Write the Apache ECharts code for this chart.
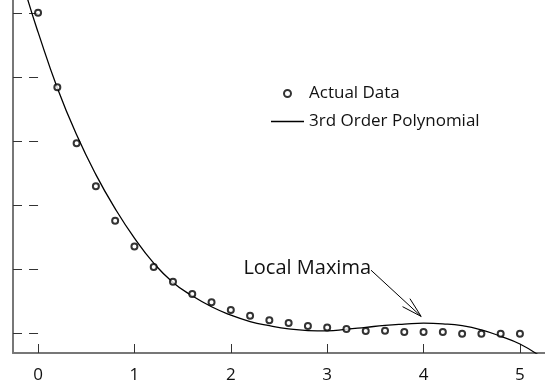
<!DOCTYPE html>
<html>
<head>
<meta charset="utf-8">
<script src="https://cdn.jsdelivr.net/npm/echarts@6/dist/echarts.min.js"></script>
<style>
html,body{margin:0;padding:0;background:#fff;}
#chart{width:545px;height:385px;}
</style>
</head>
<body>
<div id="chart"></div>
<script>
// Actual data
var dataX = [0, 0.2, 0.4, 0.6, 0.8, 1.0, 1.2, 1.4, 1.6, 1.8, 2.0, 2.2, 2.4, 2.6, 2.8, 3.0, 3.2, 3.4, 3.6, 3.8, 4.0, 4.2, 4.4, 4.6, 4.8, 5.0];
var dataY = [5.0, 3.84, 2.97, 2.30, 1.76, 1.36, 1.04, 0.81, 0.62, 0.49, 0.37, 0.28, 0.21, 0.166, 0.12, 0.098, 0.073, 0.042, 0.047, 0.026, 0.026, 0.028, 0.0, 0.0, 0.0, 0.0];
// 3rd order polynomial curve
var polyX = [-0.15, -0.1, 0, 0.2, 0.4, 0.6, 0.8, 1.0, 1.2, 1.4, 1.6, 1.8, 2.0, 2.2, 2.4, 2.6, 2.8, 3.0, 3.2, 3.4, 3.6, 3.8, 4.0, 4.2, 4.4, 4.6, 4.8, 5.0, 5.2];
var polyY = [5.45, 5.17, 4.70, 3.83, 3.10, 2.48, 1.95, 1.49, 1.10, 0.80, 0.59, 0.42, 0.29, 0.19, 0.125, 0.075, 0.05, 0.045, 0.07, 0.10, 0.13, 0.15, 0.165, 0.155, 0.125, 0.06, -0.04, -0.16, -0.34];
// tick labels
var xTicks = [0, 1, 2, 3, 4, 5];
var yTicks = [0, 1, 2, 3, 4, 5];
// annotation
var annotationText = 'Local Maxima';
var annotationStart = [3.455, 0.99];
var annotationTip = [3.975, 0.27];

var FONT = '"Open Sans", sans-serif';

var chart = echarts.init(document.getElementById('chart'), null, {renderer: 'canvas'});

function zip(a, b) { return a.map(function (v, i) { return [v, b[i]]; }); }

var option = {
  backgroundColor: '#fff',
  animation: false,
  grid: {left: 13, right: -5, top: -1, bottom: 32, containLabel: false},
  legend: {
    orient: 'vertical',
    left: 266,
    top: 80,
    itemWidth: 33,
    itemHeight: 7,
    itemGap: 11,
    symbolKeepAspect: true,
    data: [
      {name: 'Actual Data'},
      {name: '3rd Order Polynomial', icon: 'path://M0,0L33,0L33,1.3L0,1.3Z'}
    ],
    textStyle: {fontFamily: FONT, fontSize: 17, color: '#111'}
  },
  xAxis: {
    type: 'value',
    min: -0.26,
    max: 5.26,
    splitLine: {show: false},
    axisLine: {show: true, onZero: false, lineStyle: {color: '#777', width: 2}},
    axisTick: {show: true, inside: true, length: 9, customValues: xTicks, lineStyle: {color: '#333', width: 1}},
    axisLabel: {show: true, customValues: xTicks, margin: 14, fontFamily: FONT, fontSize: 17, color: '#111'}
  },
  yAxis: [{
    type: 'value',
    min: -0.3,
    max: 5.2,
    position: 'left',
    splitLine: {show: false},
    axisLine: {show: true, onZero: false, lineStyle: {color: '#777', width: 2}},
    axisTick: {show: true, inside: true, length: 9, customValues: yTicks, lineStyle: {color: '#333', width: 1}},
    axisLabel: {show: false}
  }, {
    type: 'value',
    min: -0.3,
    max: 5.2,
    position: 'right',
    splitLine: {show: false},
    axisLine: {show: false},
    axisTick: {show: true, inside: true, length: 9, customValues: yTicks, lineStyle: {color: '#333', width: 1}},
    axisLabel: {show: false}
  }],
  series: [{
    name: 'Actual Data',
    type: 'scatter',
    symbol: 'emptyCircle',
    symbolSize: 6,
    itemStyle: {color: '#000', borderColor: '#000', borderWidth: 1.5},
    data: zip(dataX, dataY),
    z: 3
  }, {
    name: '3rd Order Polynomial',
    type: 'line',
    symbol: 'none',
    smooth: true,
    lineStyle: {color: '#000', width: 1.3},
    itemStyle: {color: '#000'},
    data: zip(polyX, polyY),
    z: 2
  }, {
    type: 'custom',
    name: 'annotation',
    silent: true,
    clip: false,
    data: [[annotationStart[0], annotationStart[1], annotationTip[0], annotationTip[1]]],
    renderItem: function (params, api) {
      var s = api.coord([api.value(0), api.value(1)]);
      var t = api.coord([api.value(2), api.value(3)]);
      var ang = Math.atan2(s[1] - t[1], s[0] - t[0]);
      var L = 21, a = 15 * Math.PI / 180;
      var b1 = [t[0] + L * Math.cos(ang + a), t[1] + L * Math.sin(ang + a)];
      var b2 = [t[0] + L * Math.cos(ang - a), t[1] + L * Math.sin(ang - a)];
      return {
        type: 'group',
        children: [
          {type: 'line', shape: {x1: s[0], y1: s[1], x2: t[0], y2: t[1]}, style: {stroke: '#000', lineWidth: 1}},
          {type: 'polyline', shape: {points: [b1, t, b2]}, style: {stroke: '#000', fill: null, lineWidth: 1}},
          {type: 'text', style: {text: annotationText, x: s[0], y: s[1] - 2, align: 'right', verticalAlign: 'middle', fontFamily: FONT, fontSize: 20, fill: '#111'}}
        ]
      };
    },
    z: 5
  }]
};
chart.setOption(option);
</script>
</body>
</html>
